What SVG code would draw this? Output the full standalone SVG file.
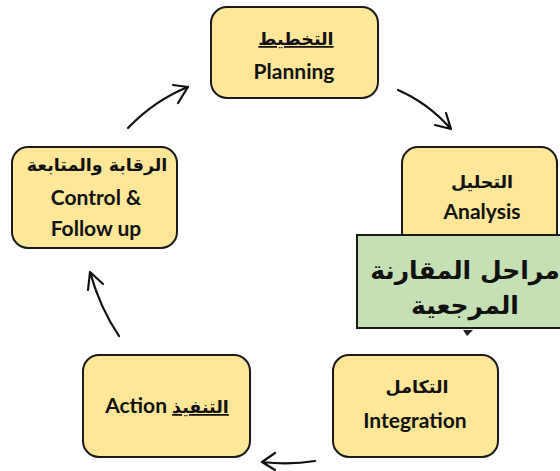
<svg xmlns="http://www.w3.org/2000/svg" width="560" height="471" viewBox="0 0 560 471">
<defs>
<style>
.box{fill:#FFE699;stroke:#1a1a1a;stroke-width:2}
.green{fill:#C5E0B4;stroke:#1a1a1a;stroke-width:2}
.t{font-family:Lato,"DejaVu Sans",sans-serif;font-weight:bold;font-size:21px;fill:#111;text-anchor:middle}
.ar{font-family:"DejaVu Sans",sans-serif;font-weight:bold;font-size:17.5px;fill:#111;text-anchor:middle}
.gt{font-family:"DejaVu Sans","Liberation Sans",sans-serif;font-weight:bold;font-size:25px;fill:#111;text-anchor:middle}
.arrow{fill:none;stroke:#111;stroke-width:2.2;stroke-linecap:round;stroke-linejoin:round}
</style>
</defs>
<rect width="560" height="471" fill="#fff"/>
<g id="connectors">
<path class="arrow" d="M398,90 Q428,103 451,129 M446,113 L451,129 L435,125"/>
<path class="arrow" d="M315,461 Q290,465 262,462 M275,453 L262,462 L275,470"/>
<path class="arrow" d="M119,336 Q100,308 90,272 M103,284 L90,272 L88,290"/>
<path class="arrow" d="M128,128 Q155,100 188,87 M173,85 L188,87 L178,103"/>
<polygon points="463,330 473,330 467,336" fill="#222"/>
</g>
<g id="planning">
<rect class="box" x="211" y="7" width="167" height="91" rx="16"/>
<text class="ar" x="296" y="45" text-decoration="underline">التخطيط</text>
<text class="t" x="294" y="79">Planning</text>
</g>
<g id="analysis">
<rect class="box" x="402" y="147" width="155" height="110" rx="16"/>
<text class="ar" x="482" y="188">التحليل</text>
<text class="t" x="482" y="219">Analysis</text>
</g>
<g id="comparison">
<rect class="green" x="357" y="235" width="205" height="93"/>
<text class="gt" x="465" y="279">مراحل المقارنة</text>
<text class="gt" x="465" y="314">المرجعية</text>
</g>
<g id="integration">
<rect class="box" x="333" y="355" width="165" height="102" rx="16"/>
<text class="ar" x="417" y="393">التكامل</text>
<text class="t" x="415" y="428">Integration</text>
</g>
<g id="action">
<rect class="box" x="83" y="355" width="167" height="102" rx="16"/>
<text class="t" x="167" y="413">Action <tspan class="ar" style="text-decoration:underline">التنفيذ</tspan></text>
</g>
<g id="control">
<rect class="box" x="12" y="147" width="165" height="101" rx="16"/>
<text class="ar" x="97" y="171">الرقابة والمتابعة</text>
<text class="t" x="96" y="205">Control &amp;</text>
<text class="t" x="96" y="236">Follow up</text>
</g>
</svg>
